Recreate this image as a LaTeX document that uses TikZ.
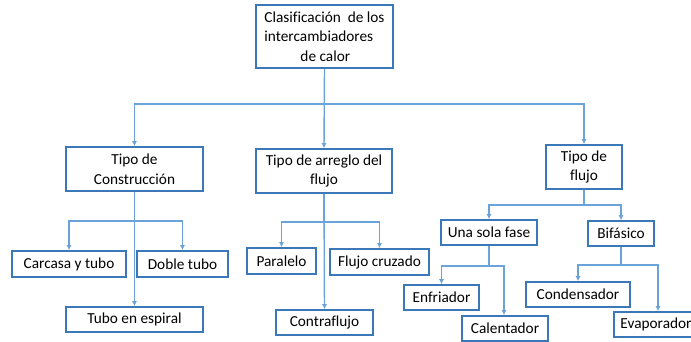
\documentclass[tikz,border=0pt]{standalone}
\usepackage{fontspec}
\setmainfont[Ligatures = NoCommon]{Carlito}
\usetikzlibrary{arrows.meta}

\definecolor{boxblue}{HTML}{3A78B8}
\definecolor{lineblue}{HTML}{6AA2DA}

\begin{document}
\begin{tikzpicture}[x = 1pt, y = -1pt,
    box/.style = {draw = boxblue, line width = 1.6pt, fill = white, inner sep = 0pt,
        align = center, font = \fontsize{15.3}{19.5}\selectfont},
    arr/.style = {draw = lineblue, line width = 1.4pt, -{Latex[length = 5pt, width = 5pt]}}]
% The page is cut to the size of the picture.
    \clip (0, 0) rectangle (691, 341);

% Top box.
    \node [box, minimum width = 137pt, minimum height = 63pt, align = left] (root) at (324.5, 36.5)
        {Clasificación\ \ de los\\intercambiadores\\\hspace*{36pt}de calor};

% The three types.
    \node [box, minimum width = 137pt, minimum height = 44pt] (constr) at (134.5, 169) {Tipo de\\Construcción};
    \node [box, minimum width = 136pt, minimum height = 44pt] (arreglo) at (324, 171) {Tipo de arreglo del\\flujo};
    \node [box, minimum width = 76pt, minimum height = 44pt] (tflujo) at (584, 167) {Tipo de\\flujo};

% Tipo de construccion.
    \node [box, minimum width = 114pt, minimum height = 26pt] (carcasa) at (69, 264) {Carcasa y tubo};
    \node [box, minimum width = 91pt, minimum height = 26pt] (doble) at (182.5, 264) {Doble tubo};
    \node [box, minimum width = 137pt, minimum height = 25pt] (espiral) at (134.5, 319.5) {Tubo en espiral};

% Tipo de arreglo del flujo.
    \node [box, minimum width = 69pt, minimum height = 26pt] (paralelo) at (281.5, 261) {Paralelo};
    \node [box, minimum width = 99pt, minimum height = 26pt] (cruzado) at (379.5, 262) {Flujo cruzado};
    \node [box, minimum width = 97pt, minimum height = 25pt] (contra) at (324.5, 322.5) {Contraflujo};

% Tipo de flujo.
    \node [box, minimum width = 96pt, minimum height = 25pt] (unafase) at (489, 232.5) {Una sola fase};
    \node [box, minimum width = 66pt, minimum height = 25pt] (bifasico) at (621, 233.5) {Bifásico};
    \node [box, minimum width = 75pt, minimum height = 25pt] (enfriador) at (441.5, 297.5) {Enfriador};
    \node [box, minimum width = 86pt, minimum height = 25pt] (calentador) at (505, 328.5) {Calentador};
    \node [box, minimum width = 104pt, minimum height = 25pt] (condensador) at (578, 294.5) {Condensador};
    \node [box, minimum width = 84pt, minimum height = 25pt] (evaporador) at (656, 324.5) {Evaporador};

% Connectors: down to a bus line, then across and down again.
    \draw [arr] (root.south) -- ++(0, 35) -| (constr.north);
    \draw [arr] (root.south) -- (arreglo.north);
    \draw [arr] (root.south) -- ++(0, 35) -| (tflujo.north);

    \draw [arr] (constr.south) -- ++(0, 29) -| (carcasa.north);
    \draw [arr] (constr.south) -- ++(0, 29) -| (doble.north);
    \draw [arr] (constr.south) -- (espiral.north);

    \draw [arr] (arreglo.south) -- ++(0, 28) -| (paralelo.north);
    \draw [arr] (arreglo.south) -- ++(0, 28) -| (cruzado.north);
    \draw [arr] (arreglo.south) -- (contra.north);

    \draw [arr] (tflujo.south) -- ++(0, 15) -| (unafase.north);
    \draw [arr] (tflujo.south) -- ++(0, 15) -| (bifasico.north);

    \draw [arr] (unafase.south) -- ++(0, 20) -| (enfriador.north);
    \draw [arr] (unafase.south) -- ++(0, 20) -| ([xshift = -1pt]calentador.north);

    \draw [arr] (bifasico.south) -- ++(0, 18) -| (condensador.north);
    \draw [arr] (bifasico.south) -- ++(0, 18) -| ([xshift = 2pt]evaporador.north);

\end{tikzpicture}
\end{document}
